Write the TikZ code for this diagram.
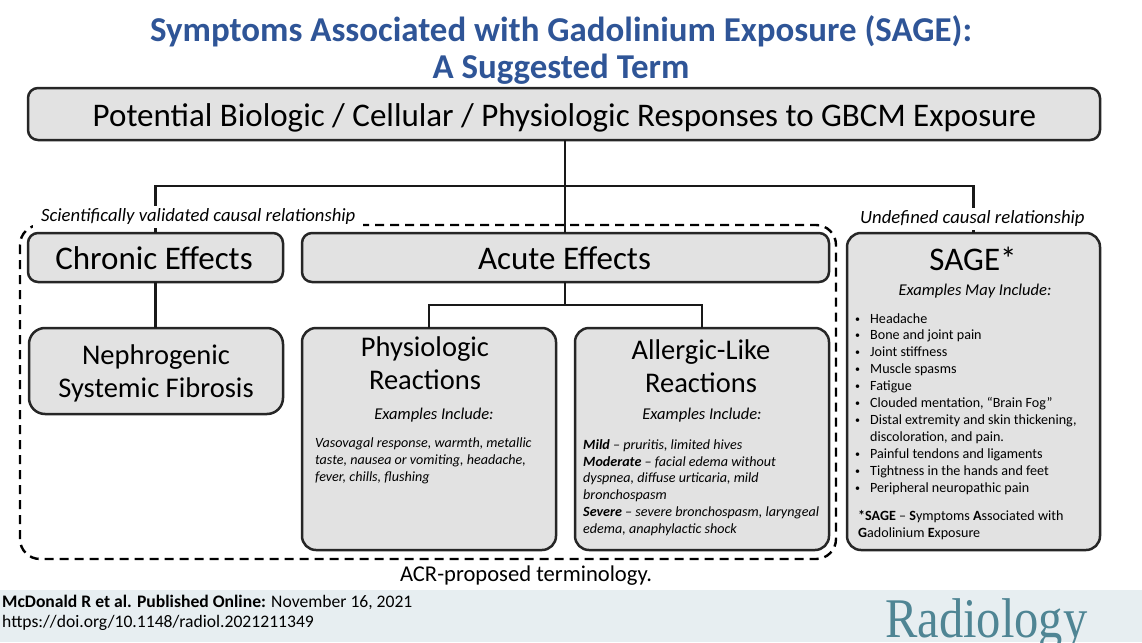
\documentclass[tikz,border=0pt]{standalone}
\usepackage{fontspec}
\setmainfont{Carlito}
\newfontfamily\radfont{Liberation Serif}
\definecolor{titleblue}{HTML}{2F5597}
\definecolor{boxgray}{HTML}{E2E2E2}
\definecolor{footband}{HTML}{E7EEF1}
\definecolor{radteal}{HTML}{4F8594}
\newcommand{\sagedot}{\raisebox{1pt}{\fontsize{10}{10}\selectfont •}}
\tikzset{
	gbox/.style={draw=black!85, fill=boxgray, line width=2.5pt, inner sep=0pt, outer sep=0pt, rounded corners=10pt},
	bigbox/.style={gbox, rounded corners=14pt},
	link/.style={draw=black!90, line width=2.5pt},
	head/.style={align=center, inner sep=0pt, font=\fontsize{28.5}{33.5}\selectfont},
	bighead/.style={inner sep=0pt, font=\fontsize{33}{38}\selectfont},
	example/.style={align=left, anchor=north west, inner sep=0pt, font=\fontsize{14.1}{16.9}\selectfont},
	tag/.style={fill=white, anchor=west, inner xsep=8pt, inner ysep=3pt, font=\fontsize{18.7}{22}\selectfont\itshape},
	subtag/.style={inner sep=1pt, font=\fontsize{16.5}{20}\selectfont\itshape},
	foot/.style={anchor=west, inner sep=0pt, font=\fontsize{17.6}{20}\selectfont}
}
\begin{document}
\begin{tikzpicture}[x=1pt, y=-1pt]
	\useasboundingbox (0,0) rectangle (1142,642);
	% footer
	\fill[footband] (0,590) rectangle (1142,642);
	\begin{scope}
		\clip (0,0) rectangle (1142,642);
		\node[anchor=base west, inner sep=0pt, xscale=0.867, text=radteal, font=\fontsize{56}{56}\selectfont\radfont] (journal) at (885,637) {Radiology};
	\end{scope}
	\node[foot] (cite) at (2,602) {\textbf{McDonald R et al. Published Online:} November 16, 2021};
	\node[foot] (doi) at (2,622.5) {https://doi.org/10.1148/radiol.2021211349};

	% title
	\node[align=center, inner sep=0pt, text=titleblue, font=\fontsize{34.9}{37.5}\selectfont\bfseries] (title) at (561,50) {Symptoms Associated with Gadolinium Exposure (SAGE):\\A Suggested Term};

	% dashed frame
	\draw[line width=2.4pt, dash pattern=on 9pt off 6pt, rounded corners=20pt] (20,225) rectangle (836,559);

	% boxes
	\node[gbox, minimum width=1072pt, minimum height=52pt] (main) at (564,114) {};
	\node[gbox, minimum width=255pt, minimum height=49pt] (chronic) at (155.5,257.5) {};
	\node[gbox, minimum width=527pt, minimum height=49pt] (acute) at (565.5,257.5) {};
	\node[bigbox, minimum width=253pt, minimum height=317pt] (sage) at (973.5,391.5) {};
	\node[bigbox, minimum width=254pt, minimum height=86pt, rounded corners=16pt] (neph) at (156,371) {};
	\node[bigbox, minimum width=254pt, minimum height=222pt] (physio) at (429,439) {};
	\node[bigbox, minimum width=254pt, minimum height=222pt] (allergic) at (702,439) {};

	% connectors
	\coordinate (bus) at (565,186);
	\coordinate (split) at (565,305);
	\draw[link] (bus |- main.south) -- (bus |- acute.north);
	\draw[link] (chronic.north) |- (bus) -| (sage.north);
	\draw[link] (chronic.south) -- (chronic.south |- neph.north);
	\draw[link] (bus |- acute.south) -- (split);
	\draw[link] (physio.north) |- (split) -| (allergic.north);

	% labels on the lines
	\node[tag] (valid) at (33,217) {Scientifically validated causal relationship};
	\node[tag] (undef) at (852,219) {Undefined causal relationship};
	\node[inner sep=0pt, font=\fontsize{22.6}{26}\selectfont] (acr) at (526,575.5) {ACR-proposed terminology.};

	% headings
	\node[bighead] (mainhead) at (564.5,118) {Potential Biologic / Cellular / Physiologic Responses to GBCM Exposure};
	\node[bighead] (chronichead) at (154,258) {Chronic Effects};
	\node[bighead] (acutehead) at (564.5,258) {Acute Effects};
	\node[bighead] (sagehead) at (973,259) {SAGE*};
	\node[head] (nephhead) at (156,373.5) {Nephrogenic\\Systemic Fibrosis};
	\node[head] (physiohead) at (425,363) {Physiologic\\Reactions};
	\node[head] (allergichead) at (701,366) {Allergic-Like\\Reactions};

	% examples
	\node[subtag] (physioex) at (434,415.5) {Examples Include:};
	\node[subtag] (allergicex) at (702,415.5) {Examples Include:};
	\node[subtag] (sageex) at (975,291.5) {Examples May Include:};
	\node[example] (physiotxt) at (315,438) {\itshape Vasovagal response, warmth, metallic\\\itshape taste, nausea or vomiting, headache,\\\itshape fever, chills, flushing};
	\node[example] (allergictxt) at (583,439) {\textbf{\itshape Mild} \itshape -- pruritis, limited hives\\\textbf{\itshape Moderate} \itshape -- facial edema without\\\itshape dyspnea, diffuse urticaria, mild\\\itshape bronchospasm\\\textbf{\itshape Severe} \itshape -- severe bronchospasm, laryngeal\\\itshape edema, anaphylactic shock};
	\node[example] (sagelist) at (855,311) {%
		\begin{tabular}{@{}l@{\hspace{10pt}}l@{}}
			\sagedot&Headache\\
			\sagedot&Bone and joint pain\\
			\sagedot&Joint stiffness\\
			\sagedot&Muscle spasms\\
			\sagedot&Fatigue\\
			\sagedot&Clouded mentation, “Brain Fog”\\
			\sagedot&Distal extremity and skin thickening,\\
			&discoloration, and pain.\\
			\sagedot&Painful tendons and ligaments\\
			\sagedot&Tightness in the hands and feet\\
			\sagedot&Peripheral neuropathic pain
		\end{tabular}};
	\node[example] (sagenote) at (858,510) {\textbf{*SAGE} -- \textbf{S}ymptoms \textbf{A}ssociated with\\\textbf{G}adolinium \textbf{E}xposure};
\end{tikzpicture}
\end{document}
